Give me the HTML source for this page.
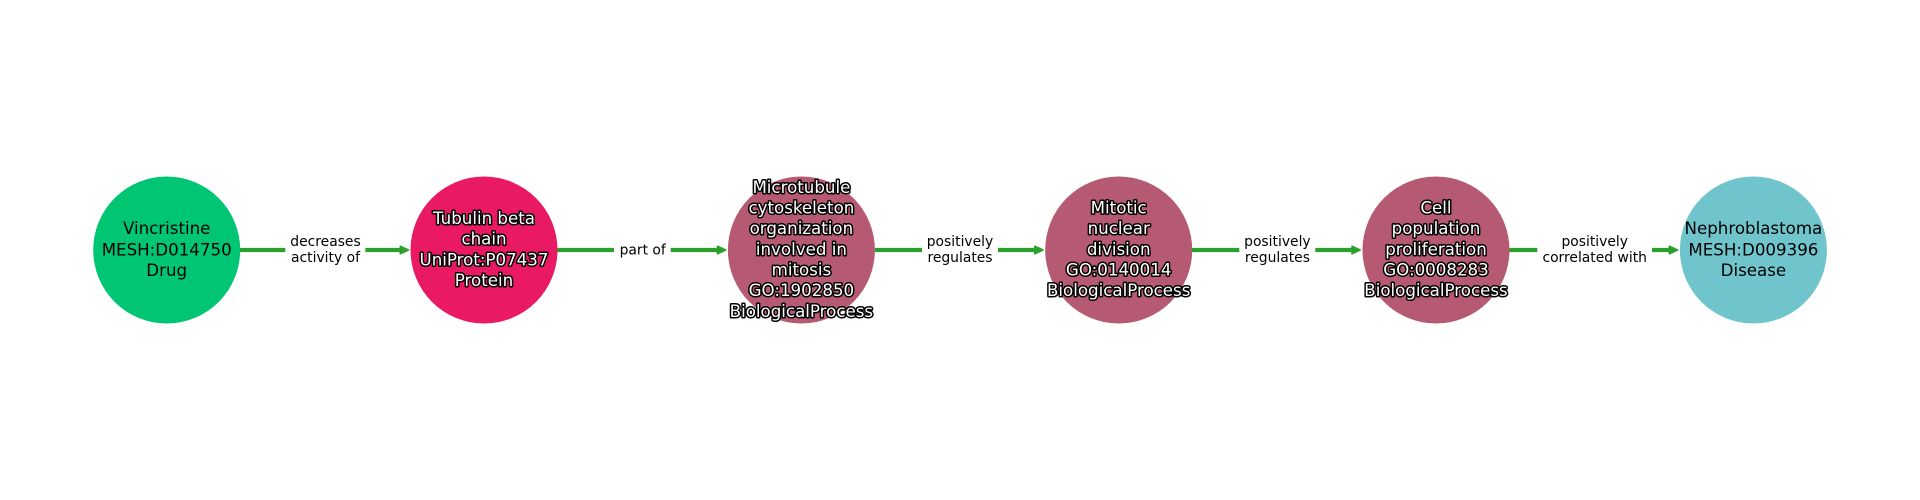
<!DOCTYPE html>
<html>
<head>
<meta charset="utf-8">
<style>
html,body{margin:0;padding:0;background:#fff;width:1920px;height:500px;overflow:hidden}
svg{display:block}
text{font-family:"DejaVu Sans",sans-serif;text-anchor:middle}
.n{font-size:16.67px;fill:#000}
.h{font-size:16.67px;fill:#fff;stroke:#000;stroke-width:3px;paint-order:stroke;stroke-linejoin:round}
.e{font-size:13.89px;fill:#000}
</style>
</head>
<body>
<svg width="1920" height="500" viewBox="0 0 1920 500" xmlns="http://www.w3.org/2000/svg">
<rect width="1920" height="500" fill="#fff"/>
<circle cx="166.7" cy="250" r="73.5" fill="#00C573"/>
<circle cx="484" cy="250" r="73.5" fill="#E91A63"/>
<circle cx="801.4" cy="250" r="73.5" fill="#B55A72"/>
<circle cx="1118.7" cy="250" r="73.5" fill="#B55A72"/>
<circle cx="1436" cy="250" r="73.5" fill="#B55A72"/>
<circle cx="1753.4" cy="250" r="73.5" fill="#70C5CC"/>

<g stroke="#2CA02C" stroke-width="4.2" fill="none">
<path d="M240 250H285.3M365.3 250H402"/>
<path d="M557.5 250H614M670.7 250H719"/>
<path d="M875 250H922M998 250H1036.5"/>
<path d="M1192 250H1239.3M1315.3 250H1354"/>
<path d="M1509.500 250H1537.300M1652 250H1671"/>
</g>
<g fill="#2CA02C" stroke="#2CA02C" stroke-width="1.6" stroke-linejoin="round">
<path d="M400.300 246.200L408.500 250L400.300 253.800Z"/>
<path d="M717.500 246.200L725.700 250L717.500 253.800Z"/>
<path d="M1034.800 246.200L1043 250L1034.800 253.800Z"/>
<path d="M1352 246.200L1360.200 250L1352 253.800Z"/>
<path d="M1669.400 246.200L1677.600 250L1669.400 253.800Z"/>
</g>

<text class="n" x="166.700" y="234">Vincristine</text>
<text class="n" x="166.700" y="255.300">MESH:D014750</text>
<text class="n" x="166.700" y="276">Drug</text>

<text class="h" x="484" y="224">Tubulin beta</text>
<text class="h" x="484" y="244.700">chain</text>
<text class="h" x="484" y="265.400">UniProt:P07437</text>
<text class="h" x="484" y="286">Protein</text>

<text class="h" x="801.400" y="192.800">Microtubule</text>
<text class="h" x="801.400" y="213.500">cytoskeleton</text>
<text class="h" x="801.400" y="234.100">organization</text>
<text class="h" x="801.400" y="254.800">involved in</text>
<text class="h" x="801.400" y="275.500">mitosis</text>
<text class="h" x="801.400" y="296.100">GO:1902850</text>
<text class="h" x="801.400" y="316.800">BiologicalProcess</text>

<text class="h" x="1118.700" y="213.500">Mitotic</text>
<text class="h" x="1118.700" y="234.100">nuclear</text>
<text class="h" x="1118.700" y="254.800">division</text>
<text class="h" x="1118.700" y="275.500">GO:0140014</text>
<text class="h" x="1118.700" y="296.100">BiologicalProcess</text>

<text class="h" x="1436" y="213.500">Cell</text>
<text class="h" x="1436" y="234.100">population</text>
<text class="h" x="1436" y="254.800">proliferation</text>
<text class="h" x="1436" y="275.500">GO:0008283</text>
<text class="h" x="1436" y="296.100">BiologicalProcess</text>

<text class="n" x="1753.400" y="234">Nephroblastoma</text>
<text class="n" x="1753.400" y="255.300">MESH:D009396</text>
<text class="n" x="1753.400" y="276">Disease</text>

<text class="e" x="325.500" y="246">decreases</text>
<text class="e" x="325.500" y="262">activity of</text>
<text class="e" x="642.700" y="254.500">part of</text>
<text class="e" x="960" y="246">positively</text>
<text class="e" x="960" y="262">regulates</text>
<text class="e" x="1277.400" y="246">positively</text>
<text class="e" x="1277.400" y="262">regulates</text>
<text class="e" x="1594.700" y="246">positively</text>
<text class="e" x="1594.700" y="262">correlated with</text>
</svg>
</body>
</html>
